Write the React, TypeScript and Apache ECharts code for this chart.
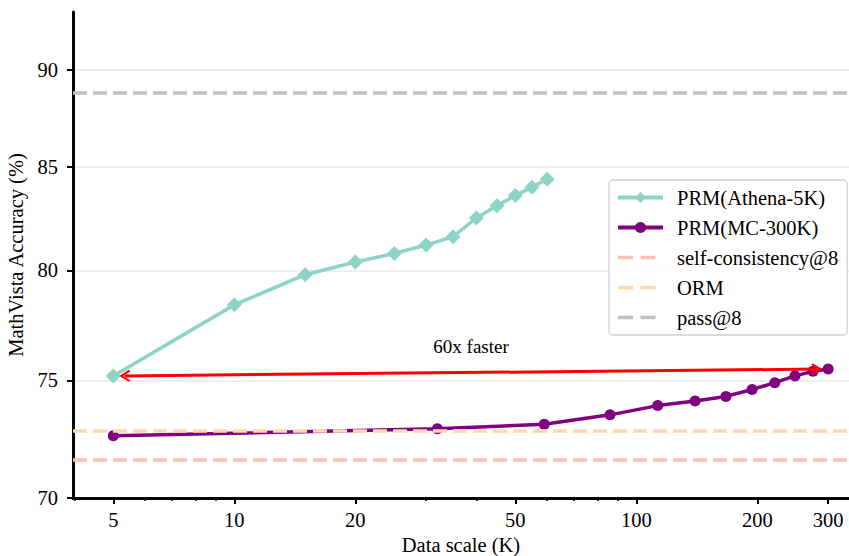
import React, { useEffect, useRef } from "react";
import * as echarts from "echarts";

// ---- data ----
const athenaX = [5, 10, 15, 20, 25, 30, 35, 40, 45, 50, 55, 60];
const athenaY = [75.2, 78.4, 79.8, 80.4, 80.8, 81.2, 81.6, 82.5, 83.1, 83.6, 84.0, 84.4];
const mcX = [5, 32, 59, 86, 113, 140, 167, 194, 221, 248, 275, 300];
const mcY = [72.6, 72.9, 73.1, 73.5, 73.9, 74.1, 74.3, 74.6, 74.9, 75.2, 75.4, 75.5];
const selfConsistency = 71.6;
const ormValue = 72.8;
const passAt8 = 88.8;
const xMajorTicks = [5, 10, 20, 50, 100, 200, 300];
const xMinorTicks = [4, 6, 7, 8, 9, 30, 40, 60, 70, 80, 90];
const yTicks = [70, 75, 80, 85, 90];
const X_MIN = 3.97;
const X_MAX = 338;
const Y_MIN = 70;
const Y_MAX = 93.1;
const arrowFrom = [5.34, 75.2];
const arrowTo = [281, 75.5];
const annotationText = "60x faster";
const annotationAt = [38.8, 76.5];

const FONT = "'Liberation Serif', 'Times New Roman', serif";
const FONT_SIZE = 20.5;
const TEAL = "#8dd3c7";
const PURPLE = "#800080";
const PINK = "#fdbfb8";
const PEACH = "#fed9b0";
const GRAY = "#c0c0c0";

const CHEVRON = "path://M5,0 L10,7.4 L8.6,8.4 L5,3 L1.4,8.4 L0,7.4 Z";
const DASH_ICON =
  "path://M0,0 L0.01,0 L0.01,0.01 Z M44.99,13.99 L45,13.99 L45,14 Z M0,5.3 L15,5.3 L15,8.7 L0,8.7 Z M22.5,5.3 L37.5,5.3 L37.5,8.7 L22.5,8.7 Z";

export default function App() {
  const ref = useRef<HTMLDivElement>(null);
  useEffect(() => {
    if (!ref.current) return;
    const chart = echarts.init(ref.current, undefined, { renderer: "svg" });
    const gridPos = {
      left: 73,
      top: 12,
      right: 0,
      bottom: 58,
      containLabel: false,
      outerBoundsMode: "none",
    };
    const tickLine = { color: "#000", width: 2 };
    const labelStyle = { fontFamily: FONT, fontSize: FONT_SIZE, color: "#000" };
    const dashed = (name: string, color: string, value: number) => ({
      name,
      type: "line",
      xAxisIndex: 0,
      yAxisIndex: 0,
      data: [],
      symbol: "none",
      itemStyle: { color },
      lineStyle: { color, width: 3.5, type: [14, 6] },
      z: 4,
      markLine: {
        silent: true,
        symbol: "none",
        label: { show: false },
        lineStyle: { color, width: 3.5, type: [14, 6] },
        data: [{ yAxis: value }],
      },
    });
    chart.setOption({
      animation: false,
      grid: [gridPos, { ...gridPos }],
      xAxis: [
        {
          type: "log",
          gridIndex: 0,
          min: X_MIN,
          max: X_MAX,
          position: "bottom",
          axisLine: { show: true, onZero: false, lineStyle: { color: "#000", width: 3 } },
          axisTick: { show: true, length: 6, lineStyle: tickLine, customValues: xMajorTicks },
          axisLabel: {
            ...labelStyle,
            margin: 11,
            customValues: xMajorTicks,
            formatter: (v: number) => String(Math.round(v)),
          },
          splitLine: { show: false },
          minorTick: { show: false },
          name: "Data scale (K)",
          nameLocation: "middle",
          nameGap: 36,
          nameTextStyle: labelStyle,
        },
        {
          type: "log",
          gridIndex: 1,
          min: X_MIN,
          max: X_MAX,
          position: "bottom",
          axisLine: { show: false },
          axisTick: { show: true, length: 3, lineStyle: { color: "#000", width: 1.5 }, customValues: xMinorTicks },
          axisLabel: { show: false },
          splitLine: { show: false },
        },
      ],
      yAxis: [
        {
          type: "log",
          gridIndex: 0,
          min: Y_MIN,
          max: Y_MAX,
          axisLine: { show: true, lineStyle: { color: "#000", width: 3 } },
          axisTick: { show: true, length: 6, lineStyle: tickLine, customValues: yTicks },
          axisLabel: {
            ...labelStyle,
            margin: 15,
            customValues: yTicks,
            formatter: (v: number) => String(Math.round(v)),
          },
          splitLine: { show: true, lineStyle: { color: "#e8e8e8", width: 1.5 } },
          name: "MathVista Accuracy (%)",
          nameLocation: "middle",
          nameGap: 40,
          nameTextStyle: labelStyle,
        },
        { type: "log", gridIndex: 1, min: Y_MIN, max: Y_MAX, show: false },
      ],
      legend: {
        orient: "vertical",
        left: 609,
        top: 180,
        itemWidth: 45,
        itemHeight: 14,
        itemGap: 9,
        padding: [7, 9, 7, 7],
        backgroundColor: "rgba(255,255,255,0.85)",
        borderColor: "#d0d0d0",
        borderWidth: 1.3,
        borderRadius: 4,
        symbolKeepAspect: false,
        lineStyle: { width: 4 },
        textStyle: { ...labelStyle, padding: [0, 0, 0, 9] },
        data: [
          { name: "PRM(Athena-5K)" },
          { name: "PRM(MC-300K)" },
          { name: "self-consistency@8", icon: DASH_ICON },
          { name: "ORM", icon: DASH_ICON },
          { name: "pass@8", icon: DASH_ICON },
        ],
      },
      series: [
        {
          name: "PRM(Athena-5K)",
          type: "line",
          data: athenaX.map((x, i) => [x, athenaY[i]]),
          symbol: "diamond",
          symbolSize: 15,
          itemStyle: { color: TEAL },
          lineStyle: { color: TEAL, width: 3.5 },
          z: 3,
        },
        {
          name: "PRM(MC-300K)",
          type: "line",
          data: mcX.map((x, i) => [x, mcY[i]]),
          symbol: "circle",
          symbolSize: 11,
          itemStyle: { color: PURPLE },
          lineStyle: { color: PURPLE, width: 3.5 },
          z: 3,
          markLine: {
            silent: true,
            symbol: [CHEVRON, CHEVRON],
            symbolSize: [12, 11],
            label: { show: false },
            lineStyle: { color: "#ff0000", width: 3, type: "solid" },
            data: [[{ coord: arrowFrom }, { coord: arrowTo }]],
          },
          markPoint: {
            silent: true,
            symbol: "circle",
            symbolSize: 1,
            itemStyle: { color: "rgba(0,0,0,0)" },
            label: {
              show: true,
              position: "inside",
              formatter: annotationText,
              fontFamily: FONT,
              fontSize: 19,
              color: "#000",
            },
            data: [{ coord: annotationAt }],
          },
        },
        dashed("self-consistency@8", PINK, selfConsistency),
        dashed("ORM", PEACH, ormValue),
        dashed("pass@8", GRAY, passAt8),
      ],
    });
    return () => chart.dispose();
  }, []);
  return (
    <div
      ref={ref}
      style={{ position: "absolute", left: 0, top: 0, width: 849, height: 556 }}
    />
  );
}
